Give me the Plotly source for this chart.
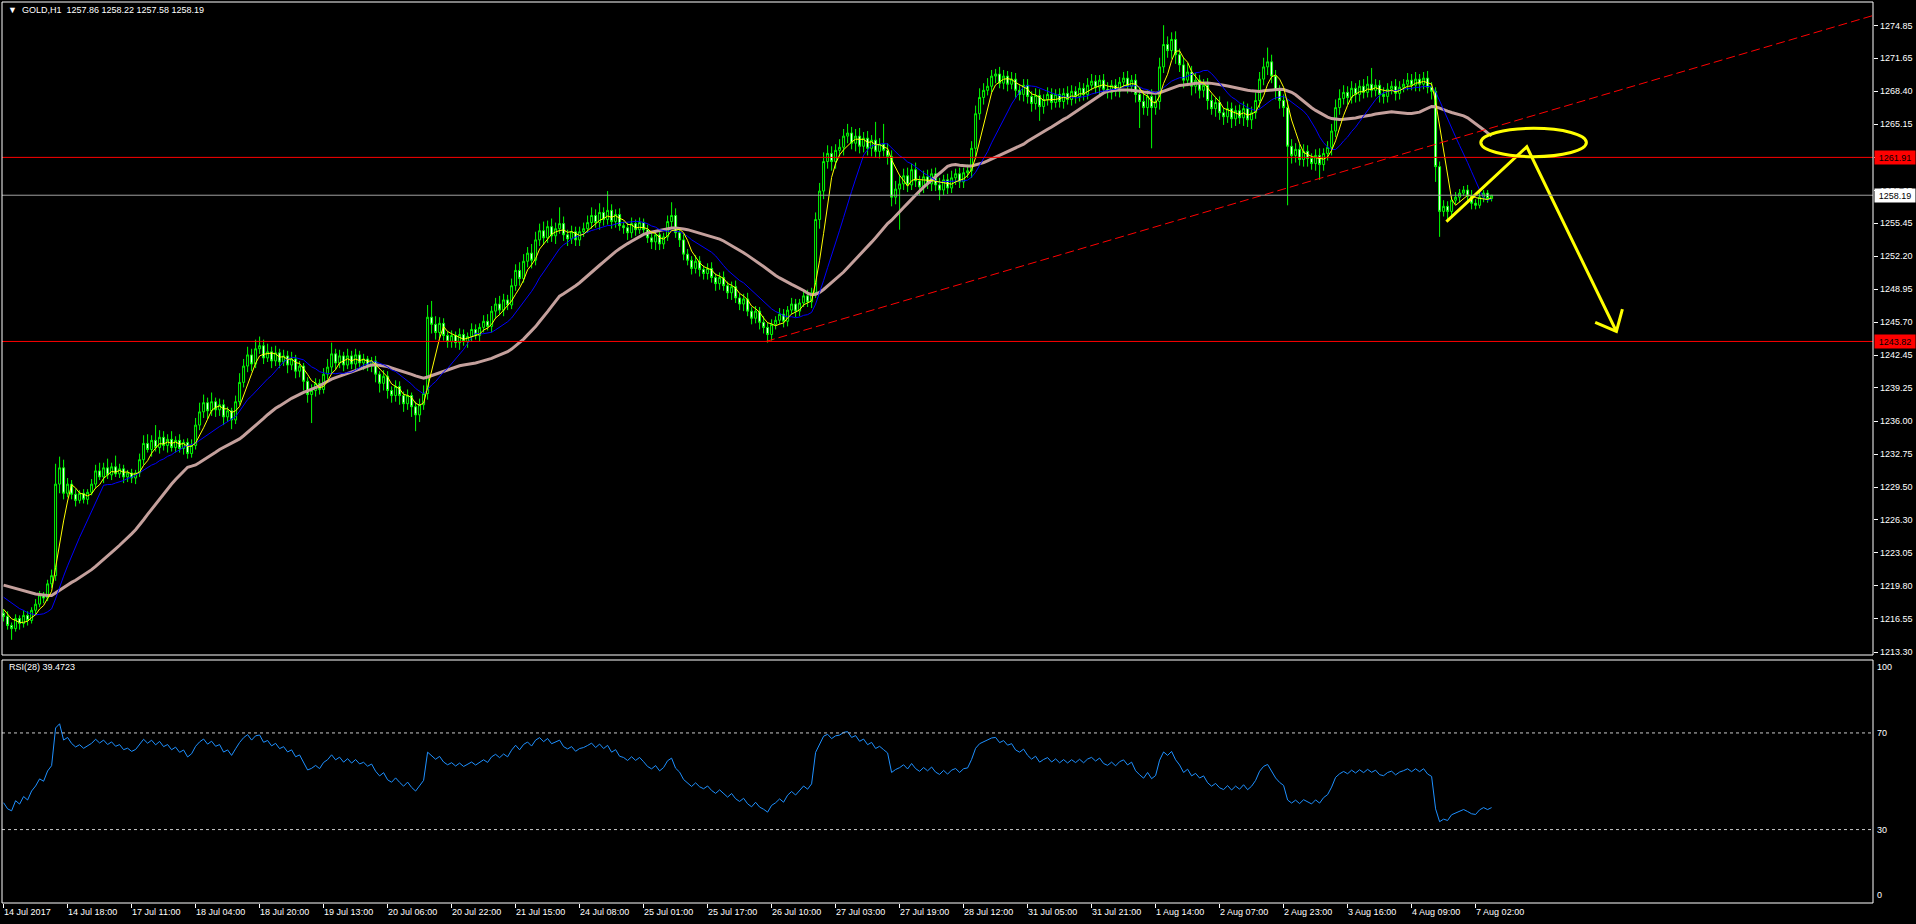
import numpy as np
import pandas as pd
import plotly.graph_objects as go

# ---------------- data ----------------
header_text = "▼  GOLD,H1  1257.86 1258.22 1257.58 1258.19"
rsi_title = "RSI(28) 39.4723"

# closes of the bars just before the window (estimated from the starting MA / RSI levels)
warmup_close = [1219.6, 1220.2, 1219.8, 1220.5, 1220.1, 1220.8, 1220.4, 1221.0, 1220.6, 1221.2,
                1220.7, 1221.3, 1220.9, 1221.4, 1220.8, 1221.1, 1220.5, 1220.9, 1220.3, 1220.7,
                1220.1, 1219.6, 1220.0, 1219.4, 1219.8, 1219.1, 1219.5, 1218.8, 1219.2,
                1218.4, 1217.8, 1217.4, 1217.1]

first_open = 1217.1

close = [
    1216.8, 1215.9, 1215.6, 1216.6, 1216.1, 1216.9, 1216.4, 1217.4, 1218.0, 1218.9, 1218.6, 1220.0, 1220.8, 1229.8, 1231.4, 1228.9,
    1229.8, 1228.8, 1228.2, 1228.9, 1228.3, 1229.0, 1229.8, 1231.1, 1230.5, 1231.4, 1230.7, 1231.5, 1230.8, 1231.3, 1230.5, 1230.9,
    1230.4, 1230.9, 1232.2, 1233.8, 1233.2, 1234.1, 1233.4, 1234.4, 1233.6, 1234.2, 1233.4, 1234.1, 1233.3, 1233.9, 1232.8, 1233.6,
    1235.6, 1236.9, 1237.8, 1237.0, 1237.9, 1237.1, 1237.6, 1236.4, 1237.0, 1236.1, 1237.9, 1239.8, 1241.4, 1242.5, 1241.6, 1243.1,
    1243.4, 1242.2, 1242.8, 1241.9, 1242.7, 1241.8, 1242.4, 1241.5, 1242.1, 1240.9, 1241.4, 1239.9, 1238.6, 1239.0, 1239.7, 1239.1,
    1240.6, 1241.3, 1242.6, 1241.7, 1242.4, 1241.5, 1242.4, 1241.6, 1242.5, 1241.7, 1242.1, 1241.4, 1241.9, 1240.6, 1239.7, 1240.4,
    1239.0, 1238.5, 1239.4, 1238.5, 1237.7, 1238.5, 1237.4, 1236.6, 1237.6, 1238.7, 1246.2, 1245.5, 1244.7, 1245.6, 1244.4, 1243.8,
    1244.4, 1243.7, 1244.5, 1243.8, 1244.3, 1245.0, 1244.4, 1245.2, 1245.8, 1245.3, 1246.8, 1247.5, 1246.9, 1247.9, 1247.4, 1249.3,
    1250.8, 1250.0, 1251.7, 1252.5, 1251.8, 1253.8, 1254.7, 1254.0, 1255.1, 1254.2, 1254.9, 1255.4, 1254.3, 1253.9, 1254.6, 1253.8,
    1254.6, 1254.9, 1255.5, 1256.2, 1255.5, 1256.5, 1255.8, 1256.7, 1255.6, 1256.3, 1255.2, 1255.0, 1254.5, 1255.4, 1254.8, 1255.5,
    1254.8, 1254.0, 1253.6, 1254.3, 1253.4, 1254.1, 1255.6, 1256.2, 1254.5, 1253.8, 1252.4, 1251.8, 1251.0, 1251.7, 1250.9, 1250.5,
    1251.0, 1250.1, 1249.5, 1250.1, 1249.3, 1248.6, 1249.2, 1248.1, 1247.5, 1248.0, 1246.8, 1246.1, 1246.8, 1245.7, 1245.2, 1244.5,
    1245.5, 1245.9, 1246.5, 1245.8, 1246.9, 1247.5, 1246.8, 1247.6, 1248.3, 1247.7, 1248.6, 1255.8, 1258.6, 1261.5, 1262.3, 1261.5,
    1262.6, 1262.9, 1264.0, 1264.3, 1263.3, 1264.0, 1263.0, 1263.8, 1262.8, 1263.6, 1262.5, 1263.2, 1262.6, 1262.0, 1258.0, 1258.8,
    1259.3, 1260.1, 1259.2, 1260.7, 1259.6, 1259.0, 1260.0, 1259.3, 1260.3, 1259.2, 1258.7, 1259.7, 1258.9, 1259.9, 1260.3, 1259.5,
    1260.4, 1260.6, 1262.8, 1266.2, 1267.8, 1268.5, 1268.9, 1269.9, 1270.1, 1269.2, 1269.9, 1269.1, 1269.6, 1268.5, 1268.1, 1269.0,
    1267.9, 1267.2, 1268.0, 1266.9, 1267.6, 1268.1, 1267.3, 1268.1, 1267.4, 1268.2, 1267.6, 1268.4, 1267.9, 1268.7, 1268.1, 1269.0,
    1269.4, 1268.8, 1269.5, 1268.6, 1268.3, 1269.0, 1268.4, 1269.3, 1269.7, 1268.9, 1269.5, 1268.1, 1267.4, 1266.8, 1267.9, 1266.8,
    1267.4, 1270.8, 1273.0, 1272.4, 1273.5, 1272.0, 1271.0, 1269.5, 1270.3, 1268.9, 1269.5, 1268.5, 1269.0, 1267.5, 1266.7, 1267.3,
    1266.3, 1265.9, 1266.7, 1265.7, 1266.5, 1265.8, 1266.7, 1265.6, 1266.3, 1267.5, 1269.6, 1270.8, 1271.3, 1269.9, 1268.5, 1267.5,
    1266.8, 1263.0, 1262.1, 1262.7, 1261.7, 1262.5, 1261.8, 1261.3, 1262.1, 1261.2, 1262.3, 1262.9, 1264.5, 1266.8, 1267.7, 1268.3,
    1267.8, 1268.7, 1268.1, 1268.9, 1268.3, 1269.1, 1268.5, 1269.0, 1268.1, 1267.9, 1268.6, 1268.9, 1268.2, 1268.8, 1269.1, 1269.5,
    1269.0, 1269.6, 1269.1, 1269.7, 1268.8, 1268.4, 1261.0, 1256.6, 1257.1, 1256.6, 1257.7, 1258.0, 1258.4, 1258.7, 1258.1, 1257.4,
    1257.2, 1258.0, 1258.4, 1257.86, 1258.19,
]

upper_wick = [
    0.4, 0.5, 0.3, 0.4, 0.3, 0.5, 0.4, 0.3, 0.5, 0.4, 0.3, 0.4, 0.6, 2.0, 1.1, 0.8,
    0.6, 0.4, 0.5, 0.3, 0.4, 0.3, 0.5, 0.6, 0.8, 0.5, 0.9, 0.4, 1.1, 0.5, 0.4, 0.3,
    0.4, 0.3, 0.6, 0.8, 0.9, 0.5, 1.5, 0.7, 0.6, 0.5, 0.8, 0.4, 0.6, 0.3, 0.4, 0.6,
    0.7, 0.9, 0.8, 0.5, 0.9, 0.4, 0.6, 0.5, 0.4, 0.3, 0.6, 0.9, 0.7, 0.8, 0.6, 0.9,
    0.9, 0.6, 0.8, 0.5, 0.7, 0.4, 0.6, 0.5, 0.7, 0.4, 0.5, 0.3, 0.4, 0.6, 0.5, 0.4,
    0.6, 0.8, 1.1, 0.5, 0.6, 0.4, 0.7, 0.5, 0.6, 0.4, 0.5, 0.3, 0.4, 0.5, 0.3, 0.6,
    0.5, 0.4, 0.6, 0.5, 0.4, 0.6, 0.3, 0.5, 0.6, 0.8, 1.2, 1.6, 0.8, 0.6, 0.5, 0.4,
    0.5, 0.4, 0.6, 0.5, 0.4, 0.6, 0.5, 0.4, 0.6, 0.7, 0.5, 0.6, 0.8, 0.6, 0.5, 0.7,
    0.6, 0.8, 0.7, 0.6, 0.9, 0.8, 0.7, 0.9, 0.6, 0.8, 0.6, 1.6, 0.7, 0.5, 0.6, 0.5,
    0.5, 0.6, 0.7, 0.8, 0.6, 0.9, 0.5, 1.9, 0.6, 0.5, 0.6, 0.4, 0.5, 0.6, 0.4, 0.5,
    0.4, 0.5, 0.6, 0.4, 0.5, 0.4, 0.6, 1.3, 0.7, 0.5, 0.6, 0.5, 0.4, 0.6, 0.5, 0.4,
    0.5, 0.6, 0.4, 0.5, 0.6, 0.4, 0.5, 0.6, 0.4, 0.5, 0.6, 0.4, 0.5, 0.4, 0.6, 0.5,
    0.5, 0.4, 0.6, 0.5, 0.4, 0.6, 0.5, 0.4, 0.5, 0.6, 0.5, 0.7, 0.8, 0.9, 0.8, 0.7,
    0.6, 0.8, 0.7, 0.9, 0.6, 0.7, 0.8, 0.6, 0.7, 0.5, 1.8, 0.6, 2.0, 0.7, 0.6, 0.8,
    0.9, 0.7, 0.8, 0.6, 0.7, 0.5, 0.6, 0.7, 0.5, 0.6, 0.7, 0.5, 0.6, 0.7, 0.5, 0.6,
    0.5, 0.6, 0.7, 0.8, 0.9, 0.7, 0.8, 0.6, 0.5, 0.7, 0.6, 0.5, 0.7, 0.6, 0.5, 0.6,
    0.6, 0.5, 0.7, 0.6, 0.5, 0.7, 0.6, 0.5, 0.6, 0.5, 0.7, 0.6, 0.5, 0.6, 0.5, 0.7,
    0.7, 0.6, 0.5, 0.6, 0.7, 0.5, 0.6, 0.5, 0.6, 0.7, 0.5, 0.6, 0.7, 0.8, 0.6, 0.7,
    0.6, 0.9, 1.9, 0.8, 0.7, 0.8, 0.6, 0.7, 0.9, 0.6, 0.7, 0.5, 0.6, 0.7, 0.6, 0.5,
    0.6, 0.5, 0.7, 0.6, 0.5, 0.6, 0.7, 0.5, 0.6, 0.8, 0.7, 0.9, 1.4, 0.7, 0.6, 0.5,
    0.6, 0.8, 0.7, 0.6, 0.5, 0.7, 0.6, 0.5, 0.6, 0.7, 0.5, 0.6, 0.7, 0.8, 0.9, 0.7,
    0.6, 0.7, 0.5, 0.6, 0.7, 0.8, 1.6, 0.6, 0.5, 0.7, 0.6, 0.5, 0.7, 0.6, 0.5, 0.7,
    0.6, 0.7, 0.5, 0.6, 0.7, 0.5, 0.4, 0.5, 0.6, 0.5, 0.4, 0.5, 0.4, 0.4, 0.5, 0.6,
    0.4, 0.5, 0.3, 0.3, 0.03,
]

lower_wick = [
    0.5, 0.4, 1.1, 0.3, 0.6, 0.4, 0.5, 0.3, 0.4, 0.3, 0.5, 0.3, 0.4, 0.5, 0.9, 0.6,
    0.4, 0.5, 0.6, 0.3, 0.4, 0.5, 0.3, 0.4, 0.3, 0.6, 0.4, 0.5, 0.3, 0.4, 0.6, 0.5,
    0.5, 0.6, 0.4, 0.5, 0.3, 0.7, 0.4, 0.6, 0.5, 0.7, 0.4, 0.5, 0.4, 0.6, 0.5, 0.4,
    0.4, 0.5, 0.6, 0.8, 0.5, 0.7, 0.6, 0.8, 0.5, 0.9, 0.4, 0.3, 0.5, 0.6, 0.7, 0.4,
    0.5, 0.6, 0.4, 0.7, 0.5, 0.6, 0.4, 0.8, 0.5, 0.7, 0.6, 0.9, 0.8, 2.8, 0.6, 0.5,
    0.4, 0.5, 0.6, 0.7, 0.5, 0.6, 0.4, 0.5, 0.6, 0.4, 0.7, 0.5, 0.6, 0.8, 0.9, 0.7,
    0.8, 0.7, 0.6, 0.9, 0.8, 0.6, 1.0, 1.6, 0.7, 0.5, 0.6, 0.9, 0.7, 0.6, 0.5, 0.6,
    0.6, 0.5, 0.7, 0.4, 0.6, 0.5, 0.4, 0.6, 0.5, 0.4, 0.6, 0.7, 0.5, 0.6, 0.5, 0.4,
    0.5, 0.7, 0.4, 0.6, 0.8, 0.5, 0.6, 0.7, 0.5, 0.6, 0.8, 0.5, 0.6, 0.7, 0.5, 0.6,
    0.6, 0.5, 0.4, 0.6, 0.5, 0.7, 0.6, 0.5, 0.7, 0.6, 0.5, 0.6, 0.7, 0.5, 0.6, 0.4,
    0.6, 0.5, 0.7, 0.8, 0.6, 0.5, 0.4, 0.6, 0.5, 0.7, 0.6, 0.5, 0.6, 0.5, 0.7, 0.6,
    0.6, 0.5, 0.7, 0.6, 0.5, 0.6, 0.7, 0.5, 0.6, 0.7, 0.5, 0.6, 0.5, 0.7, 0.6, 0.8,
    0.6, 0.5, 0.4, 0.6, 0.5, 0.4, 0.6, 0.5, 0.4, 0.5, 0.6, 0.5, 0.9, 0.8, 0.7, 0.9,
    0.7, 0.6, 0.8, 0.7, 0.6, 0.8, 0.7, 0.6, 0.7, 0.8, 0.6, 0.7, 0.6, 0.8, 0.9, 0.7,
    4.0, 0.6, 0.7, 0.5, 0.6, 0.8, 0.6, 0.5, 0.7, 0.6, 1.0, 0.5, 0.6, 0.5, 0.7, 0.6,
    0.6, 0.5, 0.7, 0.8, 0.6, 0.7, 0.5, 0.6, 0.7, 0.5, 0.6, 0.7, 0.5, 0.8, 0.6, 0.7,
    0.7, 0.8, 0.6, 1.4, 0.7, 0.6, 0.7, 0.5, 0.6, 0.7, 0.5, 0.6, 0.7, 0.5, 0.6, 0.5,
    0.5, 0.6, 0.7, 0.5, 0.6, 0.7, 0.5, 0.6, 0.5, 0.7, 0.6, 0.8, 2.6, 0.7, 0.8, 4.0,
    0.7, 0.8, 0.6, 0.7, 0.8, 0.9, 0.7, 0.8, 0.6, 0.9, 0.7, 0.8, 0.7, 0.9, 0.6, 0.8,
    0.7, 0.8, 0.6, 0.9, 0.7, 0.6, 0.8, 0.7, 0.9, 0.6, 0.7, 0.6, 0.8, 0.7, 0.9, 0.8,
    0.9, 5.8, 0.8, 0.7, 0.6, 0.7, 0.8, 0.6, 0.7, 1.5, 0.6, 0.7, 0.8, 0.6, 0.7, 0.6,
    0.7, 0.6, 0.8, 0.7, 0.6, 0.5, 0.7, 0.6, 0.8, 0.7, 0.6, 0.5, 0.7, 0.6, 0.5, 0.6,
    0.5, 0.6, 0.7, 0.5, 0.6, 0.8, 1.5, 2.5, 0.5, 0.9, 0.5, 0.4, 0.5, 0.3, 0.5, 0.6,
    0.4, 0.3, 0.5, 0.4, 0.28,
]

date_labels = ["14 Jul 2017", "14 Jul 18:00", "17 Jul 11:00", "18 Jul 04:00", "18 Jul 20:00",
               "19 Jul 13:00", "20 Jul 06:00", "20 Jul 22:00", "21 Jul 15:00", "24 Jul 08:00",
               "25 Jul 01:00", "25 Jul 17:00", "26 Jul 10:00", "27 Jul 03:00", "27 Jul 19:00",
               "28 Jul 12:00", "31 Jul 05:00", "31 Jul 21:00", "1 Aug 14:00", "2 Aug 07:00",
               "2 Aug 23:00", "3 Aug 16:00", "4 Aug 09:00", "7 Aug 02:00"]
bars_per_label = 16

price_ticks = [1213.30, 1216.55, 1219.80, 1223.05, 1226.30, 1229.50, 1232.75, 1236.00, 1239.25,
               1242.45, 1245.70, 1248.95, 1252.20, 1255.45, 1258.65, 1261.90, 1265.15, 1268.40,
               1271.65, 1274.85]
rsi_ticks = [30, 70]

resistance_level = 1261.91
support_level = 1243.82
bid_level = 1258.19

trend_bar = [190.6, 467.35]
trend_price = [1243.82, 1275.85]

ellipse_bar = [369.3, 395.7]
ellipse_price = [1261.98, 1264.77]

arrow_bar = [360.7, 380.8, 403.2]
arrow_price = [1255.6, 1262.95, 1244.8]
arrowhead_bar = [397.9, 403.2, 404.7]
arrowhead_price = [1245.7, 1244.8, 1247.0]

ma_fast, ma_mid, ma_slow = 5, 13, 34
rsi_period = 28

# ---------------- derived series ----------------
n = len(close)
x = np.arange(n)
opens = [first_open] + close[:-1]
highs = [max(o, c) + u for o, c, u in zip(opens, close, upper_wick)]
lows = [min(o, c) - d for o, c, d in zip(opens, close, lower_wick)]

fullv = np.array(warmup_close + close, dtype=float)
k = len(warmup_close)
full = pd.Series(fullv)


def sma(p):
    return full.rolling(p, min_periods=1).mean().iloc[k:].values


# Wilder RSI
d = np.diff(fullv)
g = np.maximum(d, 0.0)
l_ = np.maximum(-d, 0.0)
ag = np.full(len(d), np.nan)
al = np.full(len(d), np.nan)
p = rsi_period
ag[p - 1] = g[:p].mean()
al[p - 1] = l_[:p].mean()
for t in range(p, len(d)):
    ag[t] = (ag[t - 1] * (p - 1) + g[t]) / p
    al[t] = (al[t - 1] * (p - 1) + l_[t]) / p
rsi_full = np.concatenate([[np.nan], 100 - 100 / (1 + ag / al)])
rsi = rsi_full[k:]

# ---------------- geometry ----------------
W, H = 1916, 924
ml, mr, mt, mb = 2, 43, 2, 21
pw = W - ml - mr
ph = H - mt - mb
main_bottom = (H - mb - 655) / ph
rsi_top = (H - mb - 660) / ph

FONT = "Liberation Sans, Arial, sans-serif"
LIME = "#00FF00"
TXT = dict(family=FONT, size=9, color="white")

fig = go.Figure()

fig.add_trace(go.Candlestick(
    x=x, open=opens, high=highs, low=lows, close=close,
    increasing=dict(line=dict(color=LIME, width=1), fillcolor="black"),
    decreasing=dict(line=dict(color=LIME, width=1), fillcolor="white"),
    whiskerwidth=0, xaxis="x", yaxis="y", hoverinfo="skip"))

fig.add_trace(go.Scatter(x=x, y=sma(ma_slow), mode="lines",
                         line=dict(color="#C4A09C", width=3), xaxis="x", yaxis="y"))
fig.add_trace(go.Scatter(x=x, y=sma(ma_mid), mode="lines",
                         line=dict(color="#0000FF", width=1), xaxis="x", yaxis="y"))
fig.add_trace(go.Scatter(x=x, y=sma(ma_fast), mode="lines",
                         line=dict(color="#FFFF00", width=1), xaxis="x", yaxis="y"))

fig.add_trace(go.Scatter(x=trend_bar, y=trend_price, mode="lines",
                         line=dict(color="#FF0000", width=1, dash="9px,4px"), xaxis="x", yaxis="y"))
fig.add_trace(go.Scatter(x=arrow_bar, y=arrow_price, mode="lines",
                         line=dict(color="#FFFF00", width=3), xaxis="x", yaxis="y"))
fig.add_trace(go.Scatter(x=arrowhead_bar, y=arrowhead_price, mode="lines",
                         line=dict(color="#FFFF00", width=3), xaxis="x", yaxis="y"))

fig.add_trace(go.Scatter(x=x, y=rsi, mode="lines",
                         line=dict(color="#1E90FF", width=1), xaxis="x", yaxis="y2"))

shapes = [
    dict(type="line", xref="paper", x0=0, x1=1, yref="y", y0=resistance_level, y1=resistance_level,
         line=dict(color="#FF0000", width=1)),
    dict(type="line", xref="paper", x0=0, x1=1, yref="y", y0=support_level, y1=support_level,
         line=dict(color="#FF0000", width=1)),
    dict(type="line", xref="paper", x0=0, x1=1, yref="y", y0=bid_level, y1=bid_level,
         line=dict(color="#A0A0A0", width=1)),
    dict(type="circle", xref="x", yref="y", x0=ellipse_bar[0], x1=ellipse_bar[1],
         y0=ellipse_price[0], y1=ellipse_price[1], line=dict(color="#FFFF00", width=3)),
    dict(type="line", xref="paper", x0=0, x1=1, yref="y2", y0=70, y1=70,
         line=dict(color="#C8C8C8", width=1, dash="3px,3px")),
    dict(type="line", xref="paper", x0=0, x1=1, yref="y2", y0=30, y1=30,
         line=dict(color="#C8C8C8", width=1, dash="3px,3px")),
    dict(type="rect", xref="paper", yref="paper", x0=0, x1=1, y0=main_bottom, y1=1,
         line=dict(color="white", width=1)),
    dict(type="rect", xref="paper", yref="paper", x0=0, x1=1, y0=0, y1=rsi_top,
         line=dict(color="white", width=1)),
]

ann = [
    dict(text=header_text, xref="paper", yref="paper", x=(6 - ml) / pw,
         y=1 - (10 - mt) / ph, xanchor="left", yanchor="middle", showarrow=False, font=TXT),
    dict(text=rsi_title, xref="paper", yref="paper", x=(7 - ml) / pw,
         y=(H - mb - 667) / ph, xanchor="left", yanchor="middle", showarrow=False, font=TXT),
]
# price-axis labels (left-aligned just right of the tick marks, as on the terminal)
for v in price_ticks:
    ann.append(dict(text=f"{v:.2f}", xref="paper", yref="y", x=1, y=v, xanchor="left",
                    yanchor="middle", xshift=5, showarrow=False, font=TXT))
for v in rsi_ticks:
    ann.append(dict(text=str(v), xref="paper", yref="y2", x=1, y=v, xanchor="left",
                    yanchor="middle", xshift=2, showarrow=False, font=TXT))
ann += [
    dict(text="100", xref="paper", yref="y2", x=1, y=100, xanchor="left", yanchor="top",
         xshift=2, showarrow=False, font=TXT),
    dict(text="0", xref="paper", yref="y2", x=1, y=0, xanchor="left", yanchor="bottom",
         xshift=2, showarrow=False, font=TXT),
]
for lvl, bg in ((resistance_level, "#FF0000"), (support_level, "#FF0000"), (bid_level, "white")):
    ann.append(dict(text=f"{lvl:.2f}", xref="paper", yref="y", x=1, y=lvl,
                    xanchor="left", yanchor="middle", xshift=1, showarrow=False, bgcolor=bg,
                    width=38, height=11, align="center", borderpad=1,
                    font=dict(family=FONT, size=9, color="black")))

label_pos = [i * bars_per_label for i in range(len(date_labels))]

fig.update_layout(
    width=W, height=H,
    margin=dict(l=ml, r=mr, t=mt, b=mb, pad=0),
    paper_bgcolor="black", plot_bgcolor="black",
    showlegend=False, hovermode=False,
    font=TXT,
    shapes=shapes, annotations=ann,
    xaxis=dict(range=[-0.4, 467.35], anchor="y2", showgrid=False, zeroline=False,
               showline=False, rangeslider=dict(visible=False),
               tickmode="array", tickvals=label_pos, ticktext=date_labels,
               ticks="outside", ticklen=4, tickcolor="white",
               ticklabelposition="outside right", tickfont=TXT),
    yaxis=dict(domain=[main_bottom, 1], range=[1213.005, 1277.18], side="right",
               showgrid=False, zeroline=False, showline=False,
               tickmode="array", tickvals=price_ticks, showticklabels=False,
               ticks="outside", ticklen=4, tickcolor="white"),
    yaxis2=dict(domain=[0, rsi_top], range=[-0.4, 100.2], side="right", anchor="x",
                showgrid=False, zeroline=False, showline=False,
                tickmode="array", tickvals=rsi_ticks, showticklabels=False, ticks=""),
)

fig.write_html("out.html",
               config={"displayModeBar": False, "staticPlot": True},
               post_script="document.body.style.margin='0';document.body.style.overflow='hidden';")
